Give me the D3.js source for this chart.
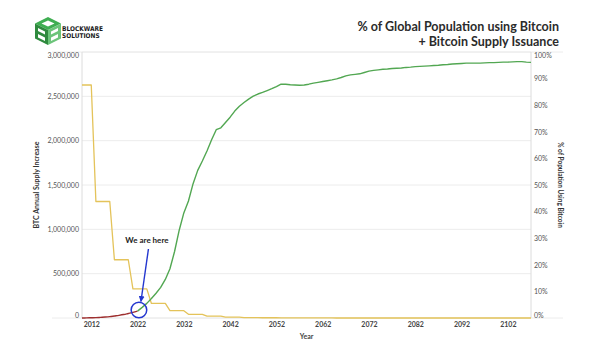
<!DOCTYPE html>
<html>
<head>
<meta charset="utf-8">
<script src="https://cdn.jsdelivr.net/npm/d3@7/dist/d3.min.js"></script>
<style>
  html, body { margin: 0; padding: 0; background: #fff; }
  svg { display: block; font-family: Lato, "Open Sans", sans-serif; }
</style>
</head>
<body>
<svg id="chart" width="600" height="355"></svg>
<script>
// ---------- DATA ----------
const years = d3.range(2010, 2108); // 2010 .. 2107

// BTC annual supply increase (yearly)
const supply = [
  2628000, 2628000, 2628000,                 // 2010-2012
  1314000, 1314000, 1314000, 1314000,        // 2013-2016
  657000, 657000, 657000, 657000,            // 2017-2020
  328500, 328500, 328500, 328500,            // 2021-2024
  164250, 164250, 164250, 164250,            // 2025-2028
  82125, 82125, 82125, 82125,                // 2029-2032
  41063, 41063, 41063, 41063,                // 2033-2036
  20531, 20531, 20531, 20531,                // 2037-2040
  10266, 10266, 10266, 10266,                // 2041-2044
  5133, 5133, 5133, 5133,                    // 2045-2048
  2566, 2566, 2566, 2566,                    // 2049-2052
  1283, 1283, 1283, 1283,                    // 2053-2056
  642, 642, 642, 642,                        // 2057-2060
  321, 321, 321, 321,                        // 2061-2064
  160, 160, 160, 160,                        // 2065-2068
  80, 80, 80, 80,                            // 2069-2072
  40, 40, 40, 40,                            // 2073-2076
  20, 20, 20, 20,                            // 2077-2080
  10, 10, 10, 10,                            // 2081-2084
  5, 5, 5, 5,                                // 2085-2088
  2.5, 2.5, 2.5, 2.5,                        // 2089-2092
  1.3, 1.3, 1.3, 1.3,                        // 2093-2096
  0.6, 0.6, 0.6, 0.6,                        // 2097-2100
  0.3, 0.3, 0.3, 0.3,                        // 2101-2104
  0.2, 0.2, 0.2                              // 2105-2107
];

// % of population using Bitcoin — historical (2010-2022)
const histYears = [2010, 2011, 2012, 2013, 2014, 2015, 2016, 2017, 2018, 2019, 2020, 2021, 2022];
const histPct   = [0.0, 0.05, 0.1, 0.15, 0.25, 0.35, 0.5, 0.75, 1.0, 1.3, 1.7, 2.1, 2.6];

// % of population using Bitcoin — projection (2022-2107)
const projYears = d3.range(2022, 2108);
const projPct = [
  2.6, 4.0, 5.5, 7.3, 9.3, 11.5, 14.5, 18.5, 25.0, 33.0,      // 2022-2031
  39.5, 44.0, 50.5, 55.5, 59.0, 62.8, 67.0, 70.8, 71.5, 73.5, // 2032-2041
  75.5, 77.8, 79.6, 81.0, 82.3, 83.4, 84.2, 84.8, 85.5, 86.2, // 2042-2051
  87.0, 87.9, 87.9, 87.7, 87.6, 87.5, 87.6, 87.9, 88.3, 88.6, // 2052-2061
  88.9, 89.2, 89.5, 89.9, 90.4, 91.0, 91.4, 91.6, 91.8, 92.3, // 2062-2071
  92.8, 93.1, 93.3, 93.5, 93.6, 93.8, 93.9, 94.0, 94.2, 94.3, // 2072-2081
  94.5, 94.6, 94.7, 94.8, 94.9, 95.0, 95.2, 95.3, 95.5, 95.6, // 2082-2091
  95.7, 95.8, 95.8, 95.8, 95.8, 95.9, 96.0, 96.0, 96.1, 96.2, // 2092-2101
  96.2, 96.3, 96.4, 96.4, 96.2, 96.1                          // 2102-2107
];

const leftTicks  = [0, 500000, 1000000, 1500000, 2000000, 2500000, 3000000];
const rightTicks = [0, 0.1, 0.2, 0.3, 0.4, 0.5, 0.6, 0.7, 0.8, 0.9, 1.0];
const xTicks     = [2012, 2022, 2032, 2042, 2052, 2062, 2072, 2082, 2092, 2102];

const titleLines = ["% of Global Population using Bitcoin", "+ Bitcoin Supply Issuance"];
const annotation = { text: "We are here", year: 2022.3, pct: 3 };

// ---------- LAYOUT ----------
const svg = d3.select("#chart");
const L = 82, R = 531, T = 52, B = 318;

const x  = d3.scaleLinear().domain([2010, 2107]).range([L, R]);
const yL = d3.scaleLinear().domain([0, 3000000]).range([B, T]);
const yR = d3.scaleLinear().domain([0, 100]).range([B, T]);

const C = {
  grid: "#ececec", axis: "#dcdcdc", tick: "#555", title: "#2b2b2b",
  yellow: "#e4c35a", green: "#52a752", red: "#9e2f2f", blue: "#2437cf"
};

// gridlines
svg.append("g").selectAll("line").data(leftTicks).join("line")
  .attr("x1", L).attr("x2", R)
  .attr("y1", d => yL(d)).attr("y2", d => yL(d))
  .attr("stroke", C.grid).attr("stroke-width", 1);
// frame lines extending past the plot (top / bottom)
[T, B].forEach(yy => {
  svg.append("line").attr("x1", 52).attr("x2", 563).attr("y1", yy).attr("y2", yy)
    .attr("stroke", C.grid).attr("stroke-width", 1);
});
// vertical axis lines
[L, R].forEach(xx => {
  svg.append("line").attr("x1", xx).attr("x2", xx).attr("y1", T).attr("y2", B)
    .attr("stroke", C.axis).attr("stroke-width", 1);
});

// axes
const gL = svg.append("g").attr("transform", `translate(${L},0)`)
  .call(d3.axisLeft(yL).tickValues(leftTicks).tickFormat(d3.format(",")).tickSize(0).tickPadding(3));
const gR = svg.append("g").attr("transform", `translate(${R},0)`)
  .call(d3.axisRight(yR.copy().domain([0, 1])).tickValues(rightTicks).tickFormat(d3.format(".0%")).tickSize(0).tickPadding(3));
const gX = svg.append("g").attr("transform", `translate(0,${B})`)
  .call(d3.axisBottom(x).tickValues(xTicks).tickFormat(d3.format("d")).tickSize(0).tickPadding(4));
[gL, gR, gX].forEach(g => {
  g.select(".domain").remove();
  g.selectAll("text").attr("font-family", "Lato, sans-serif").attr("font-size", 7).attr("fill", C.tick);
});
gX.selectAll("text").attr("font-weight", "bold").attr("fill", "#444");
// nudge end labels inward like the source
[gL, gR].forEach(g => {
  g.selectAll(".tick text").filter((d, i, n) => i === n.length - 1).attr("dy", "0.75em");
  g.selectAll(".tick text").filter((d, i) => i === 0).attr("dy", "-0.1em");
});

// axis titles
svg.append("text").attr("transform", `translate(39,${(T + B) / 2}) rotate(-90)`)
  .attr("text-anchor", "middle").attr("font-size", 7).attr("font-weight", "bold").attr("fill", "#333")
  .text("BTC Annual Supply Increase");
svg.append("text").attr("transform", `translate(558,${(T + B) / 2}) rotate(90)`)
  .attr("text-anchor", "middle").attr("font-size", 6.5).attr("font-weight", "bold").attr("fill", "#333")
  .text("% of Population Using Bitcoin");
svg.append("text").attr("x", (L + R) / 2).attr("y", 339)
  .attr("text-anchor", "middle").attr("font-size", 7).attr("font-weight", "bold").attr("fill", "#444")
  .text("Year");

// lines
const lineSupply = d3.line().x((d, i) => x(years[i])).y(d => yL(d));
svg.append("path").datum(supply).attr("d", lineSupply)
  .attr("fill", "none").attr("stroke", C.yellow).attr("stroke-width", 1.3).attr("stroke-linejoin", "round");

const lineHist = d3.line().x((d, i) => x(histYears[i])).y(d => yR(d)).curve(d3.curveMonotoneX);
svg.append("path").datum(histPct).attr("d", lineHist)
  .attr("fill", "none").attr("stroke", C.red).attr("stroke-width", 1.4);

const lineProj = d3.line().x((d, i) => x(projYears[i])).y(d => yR(d));
svg.append("path").datum(projPct).attr("d", lineProj)
  .attr("fill", "none").attr("stroke", C.green).attr("stroke-width", 1.4).attr("stroke-linejoin", "round");

// annotation
const cx = x(annotation.year), cy = yR(annotation.pct);
svg.append("circle").attr("cx", cx).attr("cy", cy).attr("r", 7.8)
  .attr("fill", "none").attr("stroke", C.blue).attr("stroke-width", 1.5);
svg.append("defs").append("marker").attr("id", "ah").attr("viewBox", "0 0 10 10")
  .attr("refX", 9).attr("refY", 5).attr("markerWidth", 6).attr("markerHeight", 6)
  .attr("orient", "auto").attr("markerUnits", "userSpaceOnUse")
  .append("path").attr("d", "M0,0 L10,5 L0,10 Z").attr("fill", C.blue);
svg.append("line").attr("x1", cx + 9.5).attr("y1", 249).attr("x2", cx + 2).attr("y2", cy - 8.5)
  .attr("stroke", C.blue).attr("stroke-width", 1.4).attr("marker-end", "url(#ah)");
svg.append("text").attr("x", cx + 8).attr("y", 243).attr("text-anchor", "middle")
  .attr("font-size", 8).attr("font-weight", "bold").attr("fill", "#222")
  .text(annotation.text);

// title
svg.append("g").selectAll("text").data(titleLines).join("text")
  .attr("x", 559).attr("y", (d, i) => 31 + i * 15)
  .attr("text-anchor", "end").attr("font-size", 12.5).attr("font-weight", "bold").attr("fill", C.title)
  .text(d => d);

// logo
const logo = svg.append("g").attr("transform", "translate(35,17)");
const gD = "#2f8a3e", gM = "#3fae52", gLt = "#6cc47a";
// top rhombus
logo.append("path").attr("d", "M13,0 L26,6.5 L13,13 L0,6.5 Z").attr("fill", gM);
logo.append("path").attr("d", "M13,3.5 L19.5,6.5 L13,9.5 L6.5,6.5 Z").attr("fill", "#fff");
// left face
logo.append("path").attr("d", "M0,6.5 L13,13 L13,28 L0,21.5 Z").attr("fill", gD);
logo.append("path").attr("d", "M3,11 L10,14.5 L10,17.5 L3,14 Z M3,17 L10,20.5 L10,24 L3,20.5 Z").attr("fill", "#fff");
// right face
logo.append("path").attr("d", "M13,13 L26,6.5 L26,21.5 L13,28 Z").attr("fill", gLt);
logo.append("path").attr("d", "M16,14.5 L23,11 L23,14 L16,17.5 Z M16,20.5 L23,17 L23,20.5 L16,24 Z").attr("fill", "#fff");
svg.append("text").attr("x", 62).attr("y", 31).attr("font-family", "'Liberation Sans Narrow', 'DejaVu Sans Condensed', sans-serif")
  .attr("font-size", 6.5).attr("font-weight", "bold").attr("fill", "#1b1b1b").text("BLOCKWARE");
svg.append("text").attr("x", 62).attr("y", 38).attr("font-family", "'Liberation Sans Narrow', 'DejaVu Sans Condensed', sans-serif")
  .attr("font-size", 6.5).attr("font-weight", "bold").attr("fill", "#1b1b1b").text("SOLUTIONS");
</script>
</body>
</html>
